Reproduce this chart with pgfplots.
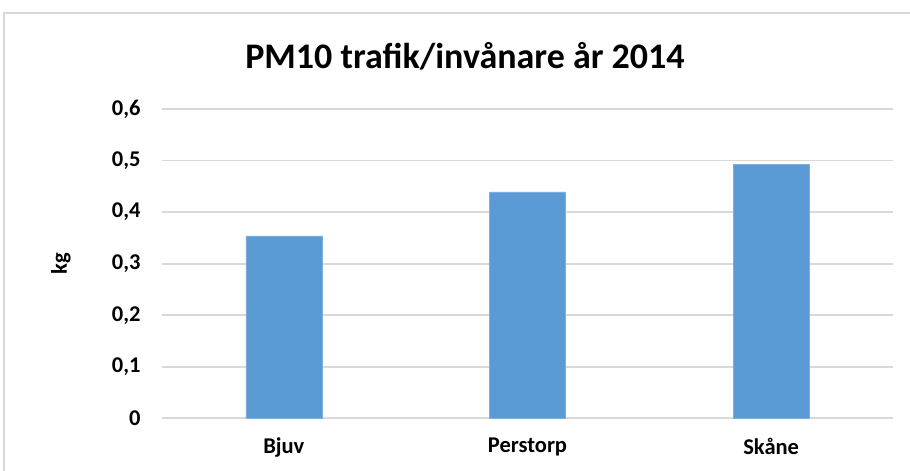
\documentclass[border=0pt]{standalone}
\usepackage{pgfplots}
\pgfplotsset{compat=1.18}
\usepackage{fontspec}
\setmainfont{Carlito}
\definecolor{barblue}{HTML}{5B9BD5}
\definecolor{gridgray}{HTML}{D9D9D9}
\begin{document}
\begin{tikzpicture}[x=1pt,y=1pt]
\useasboundingbox (0,0) rectangle (910,471);
\draw[gridgray, line width=1.5pt] (4,-5) -- (4,458) -- (915,458);
\node[font=\fontsize{36}{42}\selectfont\bfseries] at (465,415) {PM10 trafik/invånare år 2014};
\node[font=\fontsize{22.5}{26}\selectfont\bfseries, rotate=90] at (61,207) {kg};
\begin{axis}[
  at={(162pt,52.7pt)}, anchor=south west,
  scale only axis, width=731pt, height=309.3pt,
  xmin=-0.5, xmax=2.5, ymin=0, ymax=0.6,
  xtick={0,1,2}, xticklabels={Bjuv,Perstorp,Skåne},
  ytick={0,0.1,0.2,0.3,0.4,0.5,0.6},
  ymajorgrids, grid style={gridgray, line width=1.8pt},
  axis line style={draw=none},
  major tick length=0pt,
  tick label style={font=\fontsize{22.5}{26}\selectfont\bfseries},
  /pgf/number format/assume math mode=true,
  yticklabel style={/pgf/number format/use comma,/pgf/number format/fixed,/pgf/number format/precision=1, xshift=-18pt},
  xticklabel style={yshift=-16pt},
]
\addplot[ybar, bar width=76pt, fill=barblue, draw=barblue!80!white] coordinates {(0,0.354) (1,0.439) (2,0.493)};
\end{axis}
\end{tikzpicture}
\end{document}
